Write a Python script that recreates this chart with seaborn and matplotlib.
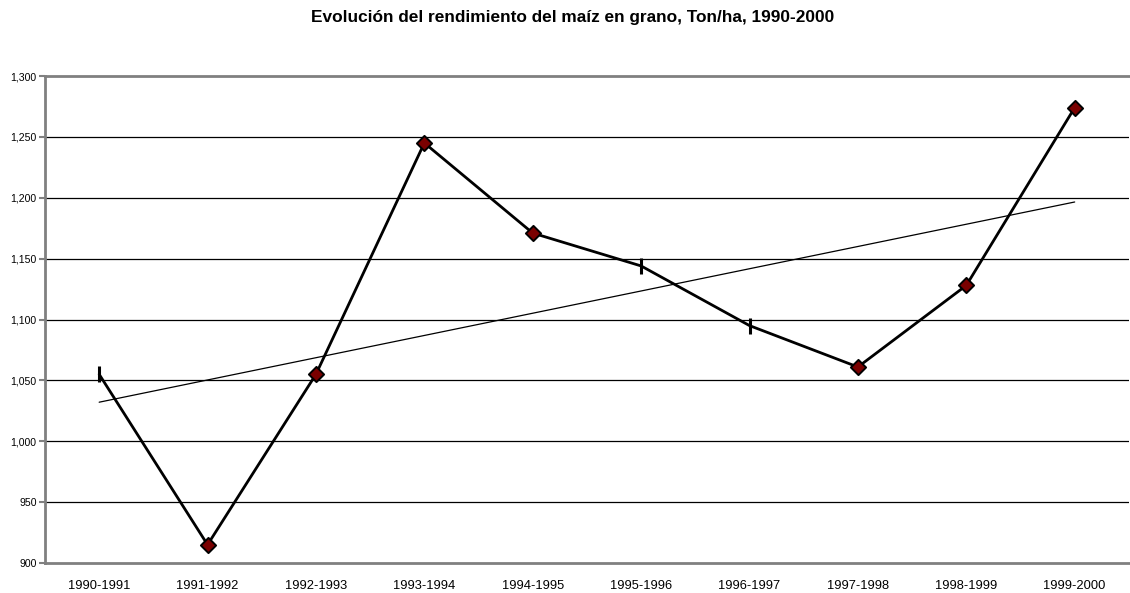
import seaborn as sns
import numpy as np
import pandas as pd
import matplotlib
matplotlib.use('Agg')
import matplotlib.pyplot as plt
from matplotlib.ticker import FuncFormatter

# data
periods = ['1990-1991', '1991-1992', '1992-1993', '1993-1994', '1994-1995',
           '1995-1996', '1996-1997', '1997-1998', '1998-1999', '1999-2000']
rendimiento = [1055, 915, 1055, 1245, 1171, 1144, 1095, 1061, 1128, 1274]
# points drawn with a dash marker instead of a diamond
dash_points = ['1990-1991', '1995-1996', '1996-1997']

sns.set_theme(style="white")
plt.rcParams['font.family'] = ['Liberation Sans', 'DejaVu Sans']
plt.rcParams['text.color'] = 'black'

df = pd.DataFrame({'periodo': periods, 'valor': rendimiento})
df['pos'] = np.arange(len(df))
df['dash'] = df['periodo'].isin(dash_points)

fig = plt.figure(figsize=(11.3, 5.93), dpi=100)
ax = fig.add_axes([0.0398, 0.0506, 0.9592, 0.8212])

# linear trend line
slope, intercept = np.polyfit(df['pos'], df['valor'], 1)
df['trend'] = intercept + slope * df['pos']
sns.lineplot(data=df, x='pos', y='trend', color='black', linewidth=0.9, ax=ax, zorder=3)

# main series
sns.lineplot(data=df, x='pos', y='valor', color='black', linewidth=2.0, ax=ax, zorder=4)
sns.scatterplot(data=df[~df['dash']], x='pos', y='valor', marker='D', s=60,
                color='#7a0000', edgecolor='black', linewidth=1.4, ax=ax, zorder=5)
sub = df[df['dash']]
ax.plot(sub['pos'], sub['valor'], linestyle='none', marker='|', markersize=11,
        markeredgewidth=2.2, color='black', zorder=5)

ax.set_xlim(-0.5, len(periods) - 0.5)
ax.set_ylim(900, 1300)
ax.set_yticks(np.arange(900, 1301, 50))
ax.yaxis.set_major_formatter(FuncFormatter(lambda v, p: f'{int(v):,}'))
ax.set_xticks(np.arange(len(periods)))
ax.set_xticklabels(periods)
ax.set_xticks(np.arange(-0.5, len(periods)), minor=True)
ax.tick_params(axis='x', which='major', length=0, labelsize=9.3, pad=12, labelcolor='black')
ax.tick_params(axis='x', which='minor', length=4, width=1.5, color='#808080', direction='out')
ax.tick_params(axis='y', length=4, width=1.5, color='#808080', direction='out',
               labelsize=7.6, pad=2, left=True, labelcolor='black')
ax.set_xlabel('')
ax.set_ylabel('')

# horizontal gridlines
for v in np.arange(950, 1300, 50):
    ax.axhline(v, color='black', linewidth=0.9, zorder=1)

for side in ['left', 'bottom', 'top']:
    ax.spines[side].set_color('#808080')
    ax.spines[side].set_linewidth(2)
ax.spines['right'].set_visible(False)

fig.text(0.507, 0.971, 'Evolución del rendimiento del maíz en grano, Ton/ha, 1990-2000',
         ha='center', va='center', fontsize=12.4, fontweight='bold', color='black')

fig.savefig('out.png', dpi=100)
